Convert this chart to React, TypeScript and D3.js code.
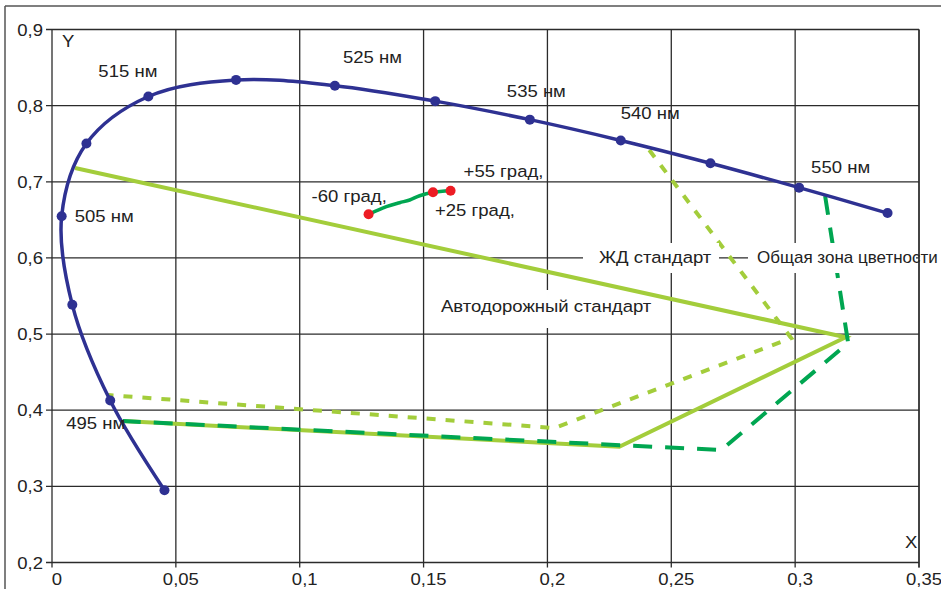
import React from "react";
import * as d3 from "d3";

// Spectral locus (CIE 1931 x,y) from 490 to 555 nm
const locusNm = [490, 495, 500, 505, 510, 515, 520, 525, 530, 535, 540, 545, 550, 555];
const locusX = [0.0454, 0.0235, 0.0082, 0.0039, 0.0139, 0.0389, 0.0743, 0.1142, 0.1547, 0.1929, 0.2296, 0.2658, 0.3016, 0.3373];
const locusY = [0.295, 0.4127, 0.5384, 0.6548, 0.7502, 0.812, 0.8338, 0.8262, 0.8059, 0.7816, 0.7543, 0.7243, 0.6923, 0.6589];

// Wavelengths carrying a label
const labelledNm = [495, 505, 515, 525, 535, 540, 550];

// Road signal standard (solid)
const roadX = [0.0093, 0.3204, 0.229, 0.0286];
const roadY = [0.7181, 0.4958, 0.352, 0.3858];

// Railway standard (dotted)
const railX = [0.2411, 0.2984, 0.2028, 0.0226];
const railY = [0.7417, 0.4948, 0.3766, 0.42];

// Common chromaticity zone (dashed)
const commonX = [0.3121, 0.3214, 0.2702, 0.0286];
const commonY = [0.6813, 0.4883, 0.3477, 0.3858];

// Colour shift with viewing angle
const angleX = [0.1278, 0.135, 0.1403, 0.1444, 0.1484, 0.1538, 0.1609];
const angleY = [0.6573, 0.6673, 0.6725, 0.6761, 0.6817, 0.6862, 0.6883];
const angleMarkIdx = [0, 5, 6];
const angleLabels = ["-60 град,", "+25 град,", "+55 град,"];

const xTicks = [0, 0.05, 0.1, 0.15, 0.2, 0.25, 0.3, 0.35];
const yTicks = [0.2, 0.3, 0.4, 0.5, 0.6, 0.7, 0.8, 0.9];

const BLUE = "#2e3192";
const LIGHT = "#a3cd3b";
const DARK = "#00a651";
const RED = "#ed1c24";
const GRID = "#2b2b2b";
const INK = "#222";
const FONT = "'Liberation Sans', Arial, sans-serif";
const FS = 17;
const SX = 1.09; // horizontal stretch of the lettering

const W = 941;
const H = 589;

const x = d3.scaleLinear().domain([0, 0.35]).range([52, 919]);
const y = d3.scaleLinear().domain([0.2, 0.9]).range([562.5, 29.5]);

const fmt = (v: number) => String(+v.toFixed(2)).replace(".", ",");

const zip = (xs: number[], ys: number[]) => xs.map((v, i) => [v, ys[i]] as [number, number]);

const smooth = d3
  .line<[number, number]>()
  .x((d) => x(d[0]))
  .y((d) => y(d[1]))
  .curve(d3.curveCatmullRom.alpha(0.5));

const straight = d3
  .line<[number, number]>()
  .x((d) => x(d[0]))
  .y((d) => y(d[1]));

// label offsets (px) from the labelled point
const nmOffset: Record<number, [number, number]> = {
  495: [-44, 28],
  505: [13, 6],
  515: [-50, -20],
  525: [8, -23],
  535: [-23, -23],
  540: [0, -21],
  550: [12, -15],
};
const angleOffset: [number, number][] = [
  [-57, -12],
  [2, 24],
  [13, -14],
];

function Label({
  x,
  y,
  anchor = "start",
  sx = SX,
  children,
}: {
  x: number;
  y: number;
  anchor?: string;
  sx?: number;
  children: React.ReactNode;
}) {
  return (
    <text transform={`translate(${x},${y}) scale(${sx},1)`} textAnchor={anchor} fill={INK}>
      {children}
    </text>
  );
}

export default function App() {
  const locus = zip(locusX, locusY);
  const angle = zip(angleX, angleY);

  // plates that sit under the zone lines (cover grid only)
  const lowPlates = [{ text: "Автодорожный стандарт", x: 441, y: 312, sx: SX, box: [436, 290, 222, 38] }];
  // plates that sit over everything
  const highPlates = [
    { text: "ЖД стандарт", x: 599, y: 263, sx: SX, box: [583, 243, 136, 30] },
    { text: "Общая зона цветности", x: 757, y: 263, sx: 1.0, box: [748, 243, 168, 30] },
  ];

  return (
    <svg
      width={W}
      height={H}
      style={{ position: "absolute", left: 0, top: 0, background: "#fff" }}
      fontFamily={FONT}
      fontSize={FS}
    >
      {/* outer frame */}
      <line x1={5} y1={6} x2={W} y2={6} stroke="#555" strokeWidth={1.5} />
      <line x1={5} y1={6} x2={5} y2={H} stroke="#555" strokeWidth={1.5} />

      {/* grid */}
      {xTicks.map((t) => (
        <line key={"gx" + t} x1={x(t)} x2={x(t)} y1={y(0.9)} y2={y(0.2) + 5} stroke={GRID} strokeWidth={1.3} />
      ))}
      {yTicks.map((t) => (
        <line key={"gy" + t} x1={x(0) - 6} x2={x(0.35)} y1={y(t)} y2={y(t)} stroke={GRID} strokeWidth={1.3} />
      ))}

      {/* tick labels */}
      {yTicks.map((t) => (
        <Label key={"ty" + t} x={43} y={y(t) + 6} anchor="end">
          {fmt(t)}
        </Label>
      ))}
      {xTicks.map((t) => (
        <Label key={"tx" + t} x={x(t) + 5} y={585} anchor="middle">
          {fmt(t)}
        </Label>
      ))}
      <Label x={62} y={47}>Y</Label>
      <Label x={905} y={548}>X</Label>

      {lowPlates.map((l) => (
        <g key={l.text}>
          <rect x={l.box[0]} y={l.box[1]} width={l.box[2]} height={l.box[3]} fill="#fff" />
          <Label x={l.x} y={l.y} sx={l.sx}>{l.text}</Label>
        </g>
      ))}

      {/* zones */}
      <path d={straight(zip(roadX, roadY)) || ""} fill="none" stroke={LIGHT} strokeWidth={4} />
      <path d={straight(zip(railX, railY)) || ""} fill="none" stroke={LIGHT} strokeWidth={4} strokeDasharray="9 10" />
      <path d={straight(zip(commonX, commonY)) || ""} fill="none" stroke={DARK} strokeWidth={4} strokeDasharray="19 13" />

      {/* spectral locus */}
      <path d={smooth(locus) || ""} fill="none" stroke={BLUE} strokeWidth={3.5} />
      {locus.map((p, i) => (
        <circle key={"lp" + i} cx={x(p[0])} cy={y(p[1])} r={5} fill={BLUE} />
      ))}

      {/* viewing-angle trace */}
      <path d={smooth(angle) || ""} fill="none" stroke={DARK} strokeWidth={3.5} />
      {angleMarkIdx.map((k) => (
        <circle key={"am" + k} cx={x(angleX[k])} cy={y(angleY[k])} r={5} fill={RED} />
      ))}

      {/* wavelength labels */}
      {labelledNm.map((nm) => {
        const i = locusNm.indexOf(nm);
        const [dx, dy] = nmOffset[nm];
        return (
          <Label key={"nm" + nm} x={x(locusX[i]) + dx} y={y(locusY[i]) + dy}>
            {nm} нм
          </Label>
        );
      })}

      {/* angle labels */}
      {angleMarkIdx.map((k, j) => (
        <Label key={"al" + j} x={x(angleX[k]) + angleOffset[j][0]} y={y(angleY[k]) + angleOffset[j][1]}>
          {angleLabels[j]}
        </Label>
      ))}

      {highPlates.map((l) => (
        <g key={l.text}>
          <rect x={l.box[0]} y={l.box[1]} width={l.box[2]} height={l.box[3]} fill="#fff" />
          <Label x={l.x} y={l.y} sx={l.sx}>{l.text}</Label>
        </g>
      ))}
      {/* right border stays visible over the plates */}
      <line x1={x(0.35)} x2={x(0.35)} y1={y(0.9)} y2={y(0.2) + 5} stroke={GRID} strokeWidth={1.3} />
    </svg>
  );
}
